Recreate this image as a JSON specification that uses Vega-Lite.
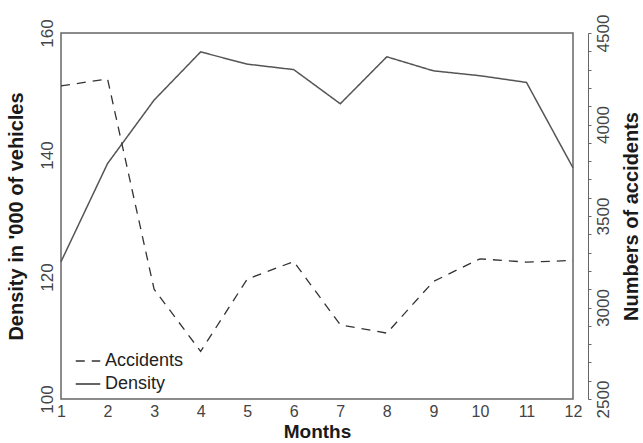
{
  "$schema": "https://vega.github.io/schema/vega-lite/v6.json",
  "autosize": {"type": "none"},
  "padding": {"left": 61, "top": 33, "right": 70, "bottom": 44},
  "width": 512,
  "height": 366,
  "background": "white",
  "config": {
    "view": {"stroke": "#666", "strokeWidth": 1.5},
    "font": "Liberation Sans",
    "axis": {
      "grid": false,
      "labelFont": "Liberation Sans",
      "titleFont": "Liberation Sans",
      "labelColor": "#444",
      "titleColor": "#1a1a1a",
      "labelFontSize": 17,
      "titleFontSize": 20,
      "titleFontWeight": "bold"
    },
    "legend": {"labelFont": "Liberation Sans"}
  },
  "data": {
    "values": [
      {"month": 1, "density": 122.5, "accidents": 4211},
      {"month": 2, "density": 138.6, "accidents": 4249},
      {"month": 3, "density": 149.0, "accidents": 3100},
      {"month": 4, "density": 156.9, "accidents": 2760},
      {"month": 5, "density": 154.9, "accidents": 3155},
      {"month": 6, "density": 154.0, "accidents": 3251},
      {"month": 7, "density": 148.4, "accidents": 2905},
      {"month": 8, "density": 156.1, "accidents": 2860},
      {"month": 9, "density": 153.8, "accidents": 3142},
      {"month": 10, "density": 153.0, "accidents": 3266},
      {"month": 11, "density": 151.9, "accidents": 3248},
      {"month": 12, "density": 137.9, "accidents": 3257}
    ]
  },
  "encoding": {
    "x": {
      "field": "month",
      "type": "quantitative",
      "scale": {"domain": [1, 12], "nice": false, "zero": false},
      "axis": {
        "title": "Months",
        "values": [1, 2, 3, 4, 5, 6, 7, 8, 9, 10, 11, 12],
        "domain": false,
        "ticks": false,
        "labelFontSize": 16,
        "titleFontSize": 19,
        "labelPadding": 4,
        "titlePadding": 3,
        "labelFlush": false
      }
    }
  },
  "layer": [
    {
      "mark": {"type": "line", "color": "#555", "strokeWidth": 1.5},
      "encoding": {
        "y": {
          "field": "density",
          "type": "quantitative",
          "scale": {"domain": [100, 160], "nice": false, "zero": false},
          "axis": {
            "title": "Density in '000 of vehicles",
            "values": [100, 120, 140, 160],
            "labelAngle": -90,
            "labelAlign": "center",
            "labelBaseline": "bottom",
            "domain": false,
            "ticks": false,
            "labelPadding": 5,
            "titlePadding": 12
          }
        },
        "strokeDash": {
          "datum": "Density",
          "scale": {"domain": ["Accidents", "Density"], "range": [[9, 7], [1, 0]]},
          "legend": {
            "title": null,
            "orient": "none",
            "legendX": 14,
            "legendY": 315,
            "symbolType": "stroke",
            "symbolStrokeColor": "#444",
            "symbolStrokeWidth": 1.5,
            "symbolSize": 600,
            "labelFontSize": 18,
            "labelColor": "#222",
            "rowPadding": 1
          }
        }
      }
    },
    {
      "mark": {"type": "line", "color": "#333", "strokeWidth": 1.3},
      "encoding": {
        "y": {
          "field": "accidents",
          "type": "quantitative",
          "scale": {"domain": [2500, 4500], "nice": false, "zero": false},
          "axis": {
            "orient": "right",
            "offset": 15,
            "title": "Numbers of accidents",
            "titleAngle": -90,
            "values": [2500, 2600, 2700, 2800, 2900, 3000, 3100, 3200, 3300, 3400, 3500, 3600, 3700, 3800, 3900, 4000, 4100, 4200, 4300, 4400, 4500],
            "labelExpr": "datum.value % 500 === 0 ? datum.label : ''",
            "format": "d",
            "labelAngle": -90,
            "labelAlign": "center",
            "labelBaseline": "top",
            "domain": true,
            "domainColor": "#666",
            "ticks": true,
            "tickSize": 3,
            "tickColor": "#666",
            "labelPadding": 4,
            "titlePadding": 30
          }
        },
        "strokeDash": {"datum": "Accidents"}
      }
    }
  ],
  "resolve": {"scale": {"y": "independent"}}
}
